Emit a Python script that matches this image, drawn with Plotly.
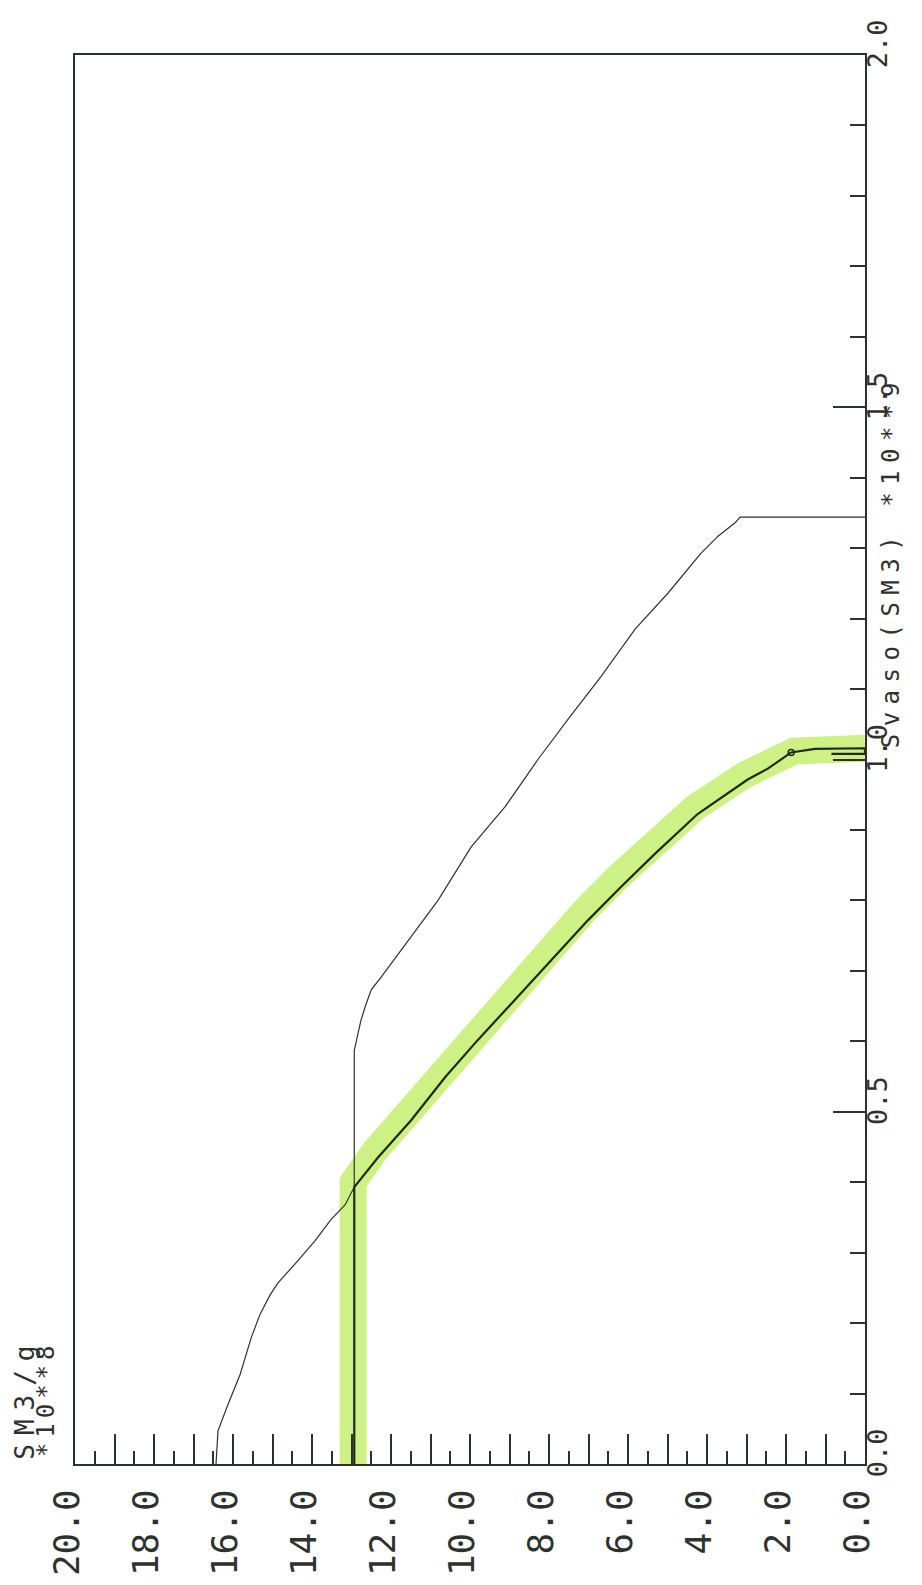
import plotly.graph_objects as go

# ---- data ----
# Svaso (SM3, x 10**9) vs SM3/g (x 10**8)
svaso_outer = [0.0, 0.047, 0.084, 0.127, 0.179, 0.212, 0.240, 0.257, 0.289, 0.317, 0.347,
               0.368, 0.393, 0.587, 0.610, 0.630, 0.653, 0.673, 0.691, 0.720, 0.800, 0.876,
               0.933, 1.000, 1.057, 1.118, 1.185, 1.236, 1.293, 1.317, 1.336, 1.344, 1.344]
sm3g_outer = [16.43, 16.38, 16.13, 15.82, 15.54, 15.32, 15.06, 14.86, 14.35, 13.92, 13.52,
              13.16, 12.93, 12.93, 12.84, 12.76, 12.63, 12.50, 12.25, 11.87, 10.81, 9.97,
              9.11, 8.28, 7.52, 6.68, 5.82, 4.99, 4.15, 3.72, 3.29, 3.16, 0.0]

svaso_inner = [0.0, 0.393, 0.435, 0.488, 0.549, 0.602, 0.653, 0.708, 0.772, 0.819, 0.866,
               0.923, 0.972, 0.987, 1.010, 1.015, 1.016, 1.008, 1.008]
sm3g_inner = [12.93, 12.93, 12.33, 11.49, 10.63, 9.80, 8.96, 8.06, 7.01, 6.18, 5.32,
              4.23, 2.96, 2.46, 1.87, 1.27, 0.0, 0.0, 0.85]

svaso_band = [0.0, 0.40, 0.445, 0.50, 0.56, 0.615, 0.665, 0.72, 0.785, 0.832, 0.878,
              0.932, 0.978, 0.995, 1.012, 1.016]
sm3g_band = [12.96, 12.96, 12.40, 11.55, 10.70, 9.88, 9.05, 8.15, 7.10, 6.27, 5.40,
             4.30, 3.05, 2.40, 1.80, 0.0]

marker_svaso = [1.010]
marker_sm3g = [1.87]

x_major = list(range(0, 21))
x_labels = [f"{v:.1f}" if v % 2 == 0 else "" for v in x_major]
x_minor = [v + 0.5 for v in range(0, 20)]
y_major = [0.0, 0.5, 1.0, 1.5, 2.0]
y_labels = ["0.0", "0.5", "1.0", "1.5", "2.0"]
y_minor = [round(i * 0.1, 1) for i in range(1, 20) if i % 5 != 0]

INK = "#2e322e"
FONT = "DejaVu Sans Mono"

fig = go.Figure()
fig.add_trace(go.Scatter(x=sm3g_band, y=svaso_band, mode="lines",
                         line=dict(color="rgba(198,238,112,0.85)", width=27),
                         hoverinfo="skip", showlegend=False))
fig.add_trace(go.Scatter(x=sm3g_outer, y=svaso_outer, mode="lines",
                         line=dict(color=INK, width=1.2), showlegend=False))
fig.add_trace(go.Scatter(x=sm3g_inner, y=svaso_inner, mode="lines",
                         line=dict(color="#1f2a1f", width=2.2), showlegend=False))
fig.add_trace(go.Scatter(x=marker_sm3g, y=marker_svaso, mode="markers",
                         marker=dict(symbol="circle-open", size=6, color="#1f2a1f",
                                     line=dict(width=1.5)), showlegend=False))

fig.update_layout(
    width=922, height=1585,
    margin=dict(l=67, r=65, t=47, b=129),
    paper_bgcolor="white", plot_bgcolor="white",
    font=dict(family=FONT, color=INK),
    xaxis=dict(range=[20, 0], tickmode="array", tickvals=x_major, ticktext=x_labels,
               ticks="inside", ticklen=30, tickwidth=1.5, tickcolor=INK,
               minor=dict(tickmode="array", tickvals=x_minor, ticks="inside",
                          ticklen=13, tickwidth=1.5, tickcolor=INK),
               tickangle=-90, tickfont=dict(family=FONT, size=36, color=INK),
               ticklabelstandoff=9, ticklabelshift=8,
               showline=True, linecolor=INK, linewidth=2, mirror=True,
               showgrid=False, zeroline=False),
    yaxis=dict(range=[0, 2], side="right", tickmode="array", tickvals=y_major,
               ticktext=y_labels, ticks="inside", ticklen=32, tickwidth=1.5,
               tickcolor=INK,
               minor=dict(tickmode="array", tickvals=y_minor, ticks="inside",
                          ticklen=15, tickwidth=1.5, tickcolor=INK),
               tickangle=-90, tickfont=dict(family=FONT, size=27, color=INK),
               ticklabelstandoff=-12, ticklabelshift=-7,
               showline=True, linecolor=INK, linewidth=2, mirror=True,
               showgrid=False, zeroline=False),
    annotations=[
        dict(text='<span style="letter-spacing:7.5px">Svaso(SM3) *10**9</span>',
             xref="paper", yref="paper", x=1.033, y=0.640,
             xanchor="center", yanchor="middle", textangle=-90, showarrow=False,
             font=dict(family=FONT, size=24, color=INK)),
        dict(text='<span style="letter-spacing:9px">SM3/g</span>',
             xref="paper", yref="paper", x=-0.0633, y=0.047,
             xanchor="center", yanchor="middle", textangle=-90, showarrow=False,
             font=dict(family=FONT, size=26, color=INK)),
        dict(text='<span style="letter-spacing:5px">*10**8</span>',
             xref="paper", yref="paper", x=-0.0367, y=0.046,
             xanchor="center", yanchor="middle", textangle=-90, showarrow=False,
             font=dict(family=FONT, size=24, color=INK)),
    ],
)

fig.write_html("out.html")
